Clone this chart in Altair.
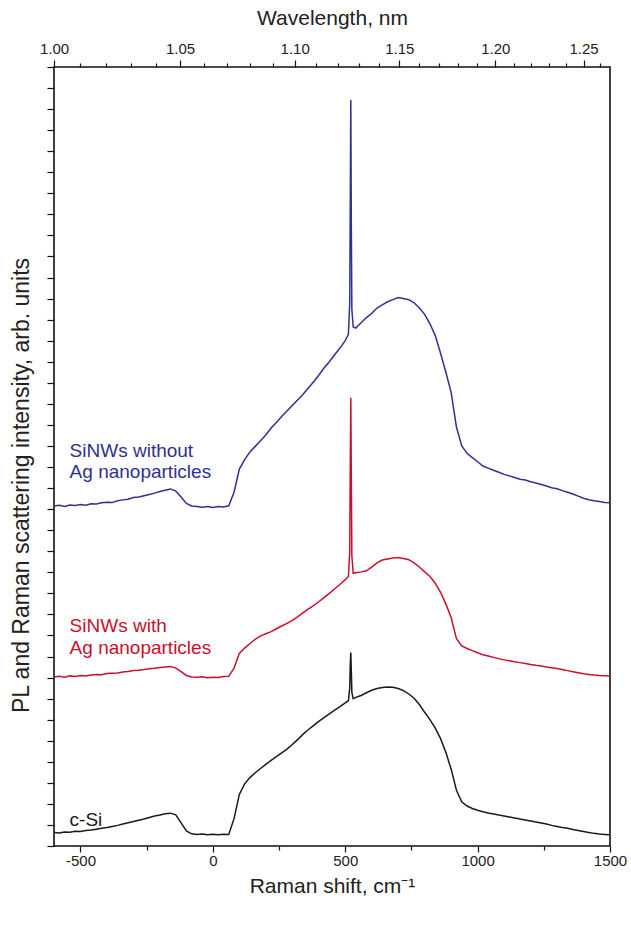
import altair as alt
import pandas as pd

# Raman shift sample positions (cm^-1)
X = list(range(-600, 501, 20)) + [512, 517, 519, 521, 523, 525, 530] + list(range(540, 1501, 20))

# SiNWs without Ag nanoparticles (blue), offset in arb. units
BLUE = [17.15, 17.18, 17.13, 17.20, 17.17, 17.22, 17.19, 17.26, 17.24, 17.30, 17.33, 17.31, 17.40, 17.44,
        17.47, 17.55, 17.58, 17.64, 17.70, 17.76, 17.84, 17.90, 17.96, 17.86, 17.58, 17.27, 17.15, 17.12,
        17.09, 17.13, 17.08, 17.12, 17.10, 17.16,
        17.8, 18.9, 19.35, 19.72, 19.98, 20.25, 20.52, 20.85, 21.12, 21.40, 21.66, 21.92, 22.18, 22.45,
        22.74, 23.04, 23.36, 23.70, 24.00, 24.33, 24.65, 25.00,
        25.3, 26.8, 31.5, 36.43, 30.5, 26.5, 25.65,
        25.6, 25.85, 26.1, 26.3, 26.55, 26.7, 26.85, 26.95, 27.05, 27.0, 26.95, 26.8, 26.55, 26.25, 25.8,
        25.25, 24.4, 23.5, 22.55, 20.9, 20.0, 19.65, 19.45, 19.25, 19.05, 18.95, 18.85, 18.75, 18.65,
        18.58, 18.50, 18.42, 18.38, 18.30, 18.24, 18.17, 18.10, 18.02, 17.97, 17.88, 17.80, 17.72, 17.62,
        17.52, 17.45, 17.40, 17.36, 17.32, 17.30]

# SiNWs with Ag nanoparticles (red)
RED = [9.03, 9.06, 9.02, 9.08, 9.05, 9.10, 9.07, 9.12, 9.14, 9.13, 9.19, 9.21, 9.22, 9.26, 9.29, 9.33,
       9.35, 9.38, 9.42, 9.44, 9.48, 9.50, 9.52, 9.45, 9.28, 9.10, 9.03, 9.01, 9.04, 8.99, 9.02, 9.00,
       9.05, 9.06,
       9.45, 10.15, 10.40, 10.62, 10.82, 10.98, 11.08, 11.18, 11.32, 11.45, 11.57, 11.72, 11.88, 12.07,
       12.25, 12.42, 12.60, 12.80, 13.00, 13.22, 13.42, 13.65,
       13.8, 15.0, 19.0, 22.29, 18.5, 14.8, 13.95,
       13.98, 14.02, 14.07, 14.25, 14.45, 14.58, 14.63, 14.68, 14.70, 14.66, 14.60, 14.45, 14.25, 14.02,
       13.80, 13.48, 13.05, 12.50, 11.85, 10.85, 10.50, 10.38, 10.28, 10.18, 10.08, 10.02, 9.96, 9.90,
       9.84, 9.80, 9.75, 9.71, 9.67, 9.62, 9.58, 9.55, 9.50, 9.47, 9.43, 9.38, 9.33, 9.28, 9.23, 9.18,
       9.15, 9.12, 9.10, 9.09, 9.08]

# c-Si (black)
BLACK = [1.64, 1.62, 1.66, 1.65, 1.70, 1.69, 1.74, 1.76, 1.80, 1.84, 1.88, 1.93, 1.98, 2.04, 2.10, 2.16,
         2.22, 2.28, 2.35, 2.42, 2.47, 2.53, 2.56, 2.48, 2.10, 1.72, 1.58, 1.55, 1.57, 1.54, 1.56, 1.53,
         1.56, 1.55,
         2.3, 3.45, 3.95, 4.25, 4.48, 4.68, 4.88, 5.07, 5.24, 5.42, 5.60, 5.82, 6.05, 6.30, 6.52, 6.72,
         6.92, 7.10, 7.28, 7.45, 7.62, 7.80,
         7.9, 8.5, 9.6, 10.19, 9.3, 8.3, 8.0,
         8.06, 8.15, 8.28, 8.40, 8.48, 8.53, 8.55, 8.54, 8.48, 8.38, 8.22, 8.02, 7.72, 7.35, 7.00, 6.60,
         6.10, 5.45, 4.65, 3.65, 3.10, 2.90, 2.78, 2.70, 2.63, 2.57, 2.52, 2.47, 2.43, 2.38, 2.33, 2.28,
         2.24, 2.19, 2.14, 2.09, 2.04, 1.98, 1.93, 1.88, 1.84, 1.78, 1.74, 1.69, 1.64, 1.60, 1.57, 1.55,
         1.53]

SERIES = ["SiNWs without Ag", "SiNWs with Ag", "c-Si"]
COLORS = ["#2e3192", "#c8102e", "#1a1a1a"]

# Top axis: wavelength (um) ticks; excitation 1064 nm -> 9400 cm^-1
LASER_WN = 9400.0
WL_MAJOR = [1.00, 1.05, 1.10, 1.15, 1.20, 1.25]
WL_MINOR = [1.01, 1.02, 1.03, 1.04, 1.06, 1.07, 1.08, 1.09, 1.11, 1.12, 1.13, 1.14,
            1.16, 1.17, 1.18, 1.19, 1.21, 1.22, 1.23, 1.24, 1.26]

X_MAJOR = [-500, 0, 500, 1000, 1500]
X_MINOR = [-250, 250, 750, 1250]
Y_TICKS = list(range(1, 39))

LABEL_TXT = ["SiNWs without", "Ag nanoparticles", "SiNWs with", "Ag nanoparticles", "c-Si"]
LABEL_X = [-541, -541, -541, -541, -541]
LABEL_Y = [19.78, 18.76, 11.44, 10.42, 2.25]
LABEL_COL = ["#2e3192", "#2e3192", "#c8102e", "#c8102e", "#1a1a1a"]

rows = []
for name, vals in zip(SERIES, [BLUE, RED, BLACK]):
    for xv, yv in zip(X, vals):
        rows.append({"shift": xv, "val": yv, "series": name})
df = pd.DataFrame(rows)

lab = pd.DataFrame({"lx": LABEL_X, "ly": LABEL_Y, "txt": LABEL_TXT, "col": LABEL_COL})

xscale = alt.Scale(domain=[-600, 1500], nice=False, zero=False)
yscale = alt.Scale(domain=[1, 38], nice=False, zero=False)

lines = alt.Chart(df).mark_line(strokeWidth=1.5).encode(
    x=alt.X("shift:Q", scale=xscale,
            axis=alt.Axis(orient="bottom", values=X_MAJOR, tickSize=6, labelFontSize=15,
                          labelPadding=1, labelFlush=False, labelExpr="'' + datum.value",
                          title="Raman shift, cm⁻¹",
                          titleFontSize=21, titleY=40, titleBaseline="middle")),
    y=alt.Y("val:Q", scale=yscale,
            axis=alt.Axis(orient="left", values=Y_TICKS, labels=False, tickSize=7,
                          title="PL and Raman scattering intensity, arb. units",
                          titleFontSize=23, titleX=-33, titleY=418, titleBaseline="middle",
                          titleAngle=-90)),
    color=alt.Color("series:N", scale=alt.Scale(domain=SERIES, range=COLORS), legend=None),
)

minor_bottom = alt.Chart(df).mark_line(opacity=0).encode(
    x=alt.X("shift:Q", scale=xscale,
            axis=alt.Axis(orient="bottom", values=X_MINOR, tickSize=4, labels=False, title="")),
    y=alt.Y("val:Q", scale=yscale, axis=None),
    detail="series:N",
)

top_major = alt.Chart(df).mark_line(opacity=0).encode(
    x=alt.X("shift:Q", scale=xscale,
            axis=alt.Axis(orient="top", values=[LASER_WN - 1e4 / w for w in WL_MAJOR],
                          labelExpr="format(10000/(9400-datum.value), '.2f')",
                          tickSize=7, labelFontSize=15, labelPadding=4, labelFlush=False,
                          title="Wavelength, nm", titleFontSize=21, titleY=-49,
                          titleBaseline="middle")),
    y=alt.Y("val:Q", scale=yscale, axis=None),
    detail="series:N",
)

top_minor = alt.Chart(df).mark_line(opacity=0).encode(
    x=alt.X("shift:Q", scale=xscale,
            axis=alt.Axis(orient="top", values=[LASER_WN - 1e4 / w for w in WL_MINOR],
                          tickSize=4, labels=False, title="")),
    y=alt.Y("val:Q", scale=yscale, axis=None),
    detail="series:N",
)

labels = alt.Chart(lab).mark_text(align="left", baseline="middle", fontSize=19).encode(
    x=alt.X("lx:Q", scale=xscale, axis=None),
    y=alt.Y("ly:Q", scale=yscale, axis=None),
    text="txt:N",
    color=alt.Color("col:N", scale=None),
)

chart = alt.layer(lines, minor_bottom, top_major, top_minor, labels).resolve_axis(
    x="independent", y="independent"
).properties(
    width=556, height=779,
    autosize=alt.AutoSizeParams(type="none"),
    padding={"left": 54, "top": 67, "right": 21, "bottom": 83},
    background="white",
).configure(
    font="Liberation Sans",
).configure_axis(
    grid=False, domain=False, tickColor="#111", tickWidth=1.2,
    labelColor="#222", titleColor="#222", titleFontWeight="normal",
    labelFont="Liberation Sans", titleFont="Liberation Sans",
).configure_view(
    stroke="#111", strokeWidth=1.6,
).configure_text(font="Liberation Sans")

chart.save("out.html", embed_options={"renderer": "svg", "actions": False})
